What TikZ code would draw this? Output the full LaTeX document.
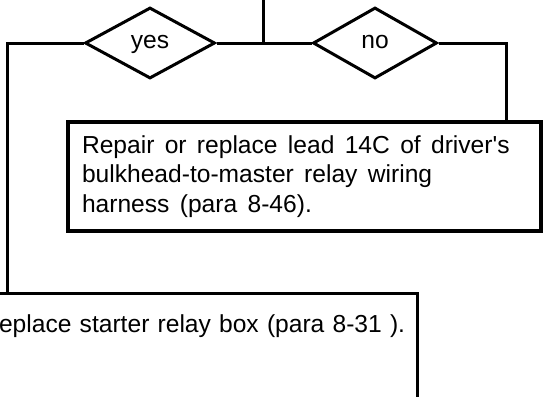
\documentclass[tikz,border=0pt]{standalone}
\usepackage{fontspec}
\setmainfont{Liberation Sans}[Ligatures=TeXOff]
\usetikzlibrary{shapes.geometric, positioning, calc}
\tikzset{
  choice/.style  = {diamond, draw, line width=1.5pt, inner sep=0pt,
                    minimum height=35.5pt, aspect=2,
                    text height=.6em, text depth=.1em},
  taskbox/.style = {rectangle, draw, line width=1.7pt, align=left,
                    inner xsep=7pt},
  wire/.style    = {line width=1.5pt},
}

\begin{document}
\begin{tikzpicture}[x=0.5pt, y=-0.5pt,
    every node/.style={font=\fontsize{12.3}{14.75}\selectfont}]
  \useasboundingbox (0,0) rectangle (545,396);
  \clip (0,0) rectangle (545,396);
  % decisions
  \foreach \nm/\x/\w in {yes/150/65pt, no/375/62pt} {
    \node[choice, minimum width=\w] (\nm) at (\x,43) {\nm};
  }
  % actions
  \node[taskbox, minimum width=236.5pt, minimum height=54.5pt,
        text width=222.5pt] (repair) at (304.5,176.5)
    {\spaceskip=.42em\relax Repair or replace lead 14C of driver's\\
     bulkhead-to-master relay wiring\\
     harness (para 8-46).};
  \node[taskbox, anchor=north east, text width=216pt, inner xsep=2pt,
        inner ysep=7pt, text height=12.5pt, text depth=60pt]
    (replace) at (419,292)
    {Replace starter relay box (para 8-31 ).};
  % connectors
  \coordinate (top) at (263,0);
  \coordinate (junction) at (263,43);
  \coordinate (yesdrop) at (7,292);
  \coordinate (nodrop) at (506,122);
  \draw[wire] (top) -- (junction);
  \draw[wire] (yes.east) -- (no.west);
  \draw[wire] (yes.west) -| (yesdrop);
  \draw[wire] (no.east) -| (nodrop);
\end{tikzpicture}
\end{document}
